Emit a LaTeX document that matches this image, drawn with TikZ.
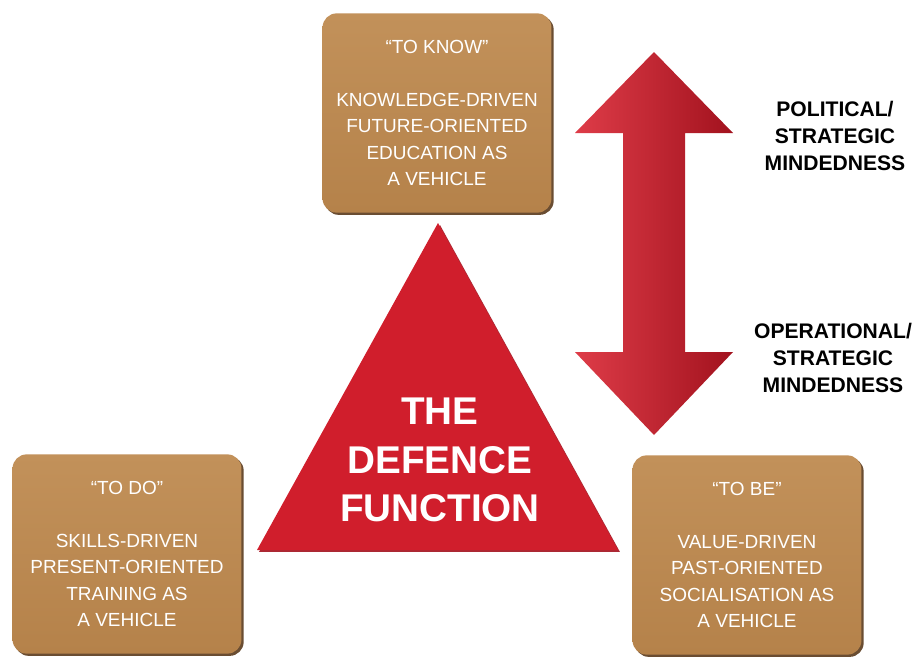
\documentclass[tikz,border=0pt]{standalone}
\usepackage{fontspec}
\setmainfont{Liberation Sans}
\usetikzlibrary{positioning, shadows}
\definecolor{BoxBrown}{HTML}{B5824A}
\definecolor{BoxLight}{HTML}{C2915A}
\definecolor{BoxDark}{HTML}{5A3A1C}
\definecolor{DefRed}{HTML}{D01E2C}
\definecolor{DefLight}{HTML}{DE3C48}
\definecolor{DefDark}{HTML}{A2121E}

\begin{document}
\begin{tikzpicture}[x=0.025cm, y=-0.025cm,
  rolebox/.style={rectangle, rounded corners=10pt, top color=BoxLight,
    bottom color=BoxBrown, text=white, align=center,
    font=\fontsize{13.5}{18.8}\selectfont,
    minimum width=5.72cm, minimum height=4.98cm, inner sep=0pt,
    drop shadow={shadow xshift=1.6pt, shadow yshift=-1.6pt,
      fill=BoxDark, opacity=0.9}},
  mindlabel/.style={font=\bfseries\fontsize{15}{19.2}\selectfont,
    text=black, align=center},
  deflabel/.style={font=\bfseries\fontsize{27.5}{34.4}\selectfont,
    text=white, align=center}
]
\useasboundingbox (0,0) rectangle (923,659);

% Role boxes
\node[rolebox] (know) at (437,113)
  {“TO KNOW”\\[18.8pt]KNOWLEDGE-DRIVEN\\FUTURE-ORIENTED\\EDUCATION AS\\A VEHICLE};
\node[rolebox] (todo) at (127,554)
  {“TO DO”\\[18.8pt]SKILLS-DRIVEN\\PRESENT-ORIENTED\\TRAINING AS\\A VEHICLE};
\node[rolebox] (tobe) at (747,555)
  {“TO BE”\\[18.8pt]VALUE-DRIVEN\\PAST-ORIENTED\\SOCIALISATION AS\\A VEHICLE};

% Defence function triangle
\path[fill=DefRed, drop shadow={shadow xshift=1.4pt, shadow yshift=-1.4pt,
    fill=DefDark, opacity=0.9}]
  (438,223) -- (618,550) -- (257,550) -- cycle;
\node[deflabel] (defence) at (440,460) {THE\\DEFENCE\\FUNCTION};

% Double arrow between the mindedness levels
\path[left color=DefLight, middle color=DefRed, right color=DefDark]
  (654,52) -- (733,133) -- (685,133) -- (685,352) -- (733,352)
  -- (654,435) -- (575,352) -- (623,352) -- (623,133) -- (575,133) -- cycle;

% Mindedness labels
\node[mindlabel] (political) at (835,136)
  {POLITICAL/\\STRATEGIC\\MINDEDNESS};
\node[mindlabel] (operational) at (833,358)
  {OPERATIONAL/\\STRATEGIC\\MINDEDNESS};

\end{tikzpicture}
\end{document}
